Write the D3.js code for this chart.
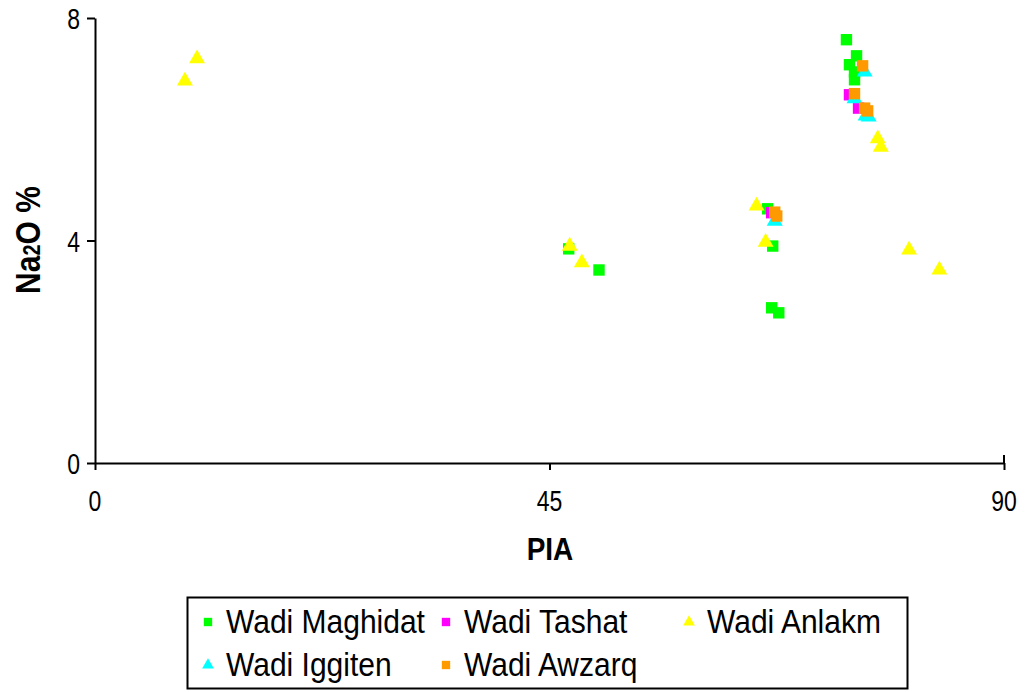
<!DOCTYPE html>
<html><head><meta charset="utf-8">
<script src="https://cdn.jsdelivr.net/npm/d3@7"></script>
<style>body{margin:0;background:#fff;} svg{display:block;}</style>
</head><body>
<svg id="c" width="1028" height="692"></svg>
<script>
const seriesNames = ["Wadi Maghidat","Wadi Tashat","Wadi Anlakm","Wadi Iggiten","Wadi Awzarq"];
const seriesColors = ["#00ff00","#ff00ff","#ffff00","#00ffff","#ff9900"];
const seriesShapes = ["square","square","triangle","triangle","square"];

const maghidatPIA = [46.9,49.9,74.4,75.4,74.7,75.2,75.2,66.6,67.1,67.0,67.7];
const maghidatNa2O = [3.85,3.47,7.61,7.32,7.16,7.03,6.89,4.57,3.90,2.79,2.70];
const tashatPIA = [74.7,75.6,67.0];
const tashatNa2O = [6.62,6.38,4.50];
const anlakmPIA = [10.1,8.9,47.0,48.2,65.5,66.4,77.5,77.8,80.6,83.6];
const anlakmNa2O = [7.27,6.87,3.90,3.60,4.62,3.97,5.83,5.68,3.83,3.47];
const iggitenPIA = [76.2,75.2,76.3,76.6,67.3];
const iggitenNa2O = [7.03,6.55,6.24,6.22,4.35];
const awzarqPIA = [76.0,75.2,76.2,76.5,67.3,67.5];
const awzarqNa2O = [7.14,6.64,6.38,6.33,4.51,4.44];

const xTicks = [0,45,90];
const yTicks = [0,4,8];

const seriesX = [maghidatPIA,tashatPIA,anlakmPIA,iggitenPIA,awzarqPIA];
const seriesY = [maghidatNa2O,tashatNa2O,anlakmNa2O,iggitenNa2O,awzarqNa2O];

const svg = d3.select("#c");
const L=95, R=1004, T=18, B=463;
const x = d3.scaleLinear().domain([0,90]).range([L,R]);
const y = d3.scaleLinear().domain([0,8]).range([B,T]);
const font = "'Liberation Sans', Arial, sans-serif";

// axes
const xa = svg.append("g").attr("transform",`translate(0,${B})`)
  .call(d3.axisBottom(x).tickValues(xTicks).tickSize(7).tickSizeOuter(0).tickFormat(""));
const ya = svg.append("g").attr("transform",`translate(${L},0)`)
  .call(d3.axisLeft(y).tickValues(yTicks).tickSize(8).tickSizeOuter(0).tickFormat(""));
[xa,ya].forEach(a=>{
  a.selectAll("path,line").attr("stroke","#000").attr("stroke-width",2);
});
svg.append("line").attr("x1",x(90)).attr("x2",x(90)).attr("y1",B-8).attr("y2",B).attr("stroke","#000").attr("stroke-width",2);

// tick labels (vertically stretched like the reference)
xTicks.forEach(t=>{
  svg.append("text").attr("transform",`translate(${x(t)},${511}) scale(1,1.3)`)
    .attr("text-anchor","middle").attr("font-family",font).attr("font-size",23).text(t);
});
yTicks.forEach(t=>{
  svg.append("text").attr("transform",`translate(80,${y(t)+11}) scale(1,1.3)`)
    .attr("text-anchor","end").attr("font-family",font).attr("font-size",23).text(t);
});

// titles
svg.append("text").attr("transform","translate(550,560) scale(1,1.15)").attr("text-anchor","middle")
  .attr("font-family",font).attr("font-weight","bold").attr("font-size",28).text("PIA");
const yt = svg.append("text").attr("transform","translate(40,240) rotate(-90) scale(1,1.15)").attr("text-anchor","middle")
  .attr("font-family",font).attr("font-weight","bold").attr("font-size",30);
yt.append("tspan").text("Na");
yt.append("tspan").attr("font-size",20).text("2");
yt.append("tspan").text("O %");

const sq = d3.symbol().type(d3.symbolSquare).size(130);
const tri = d3.symbol().type(d3.symbolTriangle).size(110);

seriesNames.forEach((n,i)=>{
  const g = svg.append("g");
  g.selectAll("path").data(seriesX[i].map((v,j)=>[v,seriesY[i][j]])).join("path")
    .attr("d", seriesShapes[i]==="square"?sq:tri)
    .attr("transform",d=>`translate(${x(d[0])},${y(d[1])})`)
    .attr("fill",seriesColors[i]);
});

// legend
svg.append("rect").attr("x",187.5).attr("y",597.5).attr("width",720).attr("height",91)
  .attr("fill","none").attr("stroke","#000").attr("stroke-width",2);
const legPos = [[208,622],[446,622],[689,622],[208,665],[446,665]];
const sqL = d3.symbol().type(d3.symbolSquare).size(70);
const triL = d3.symbol().type(d3.symbolTriangle).size(60);
seriesNames.forEach((n,i)=>{
  const [lx,ly]=legPos[i];
  svg.append("path").attr("d",seriesShapes[i]==="square"?sqL:triL)
    .attr("transform",`translate(${lx},${ly})`).attr("fill",seriesColors[i]);
  svg.append("text").attr("transform",`translate(${lx+18},${ly+11}) scale(1,1.08)`).attr("font-family",font)
    .attr("font-size",30).text(n);
});
</script>
</body></html>
